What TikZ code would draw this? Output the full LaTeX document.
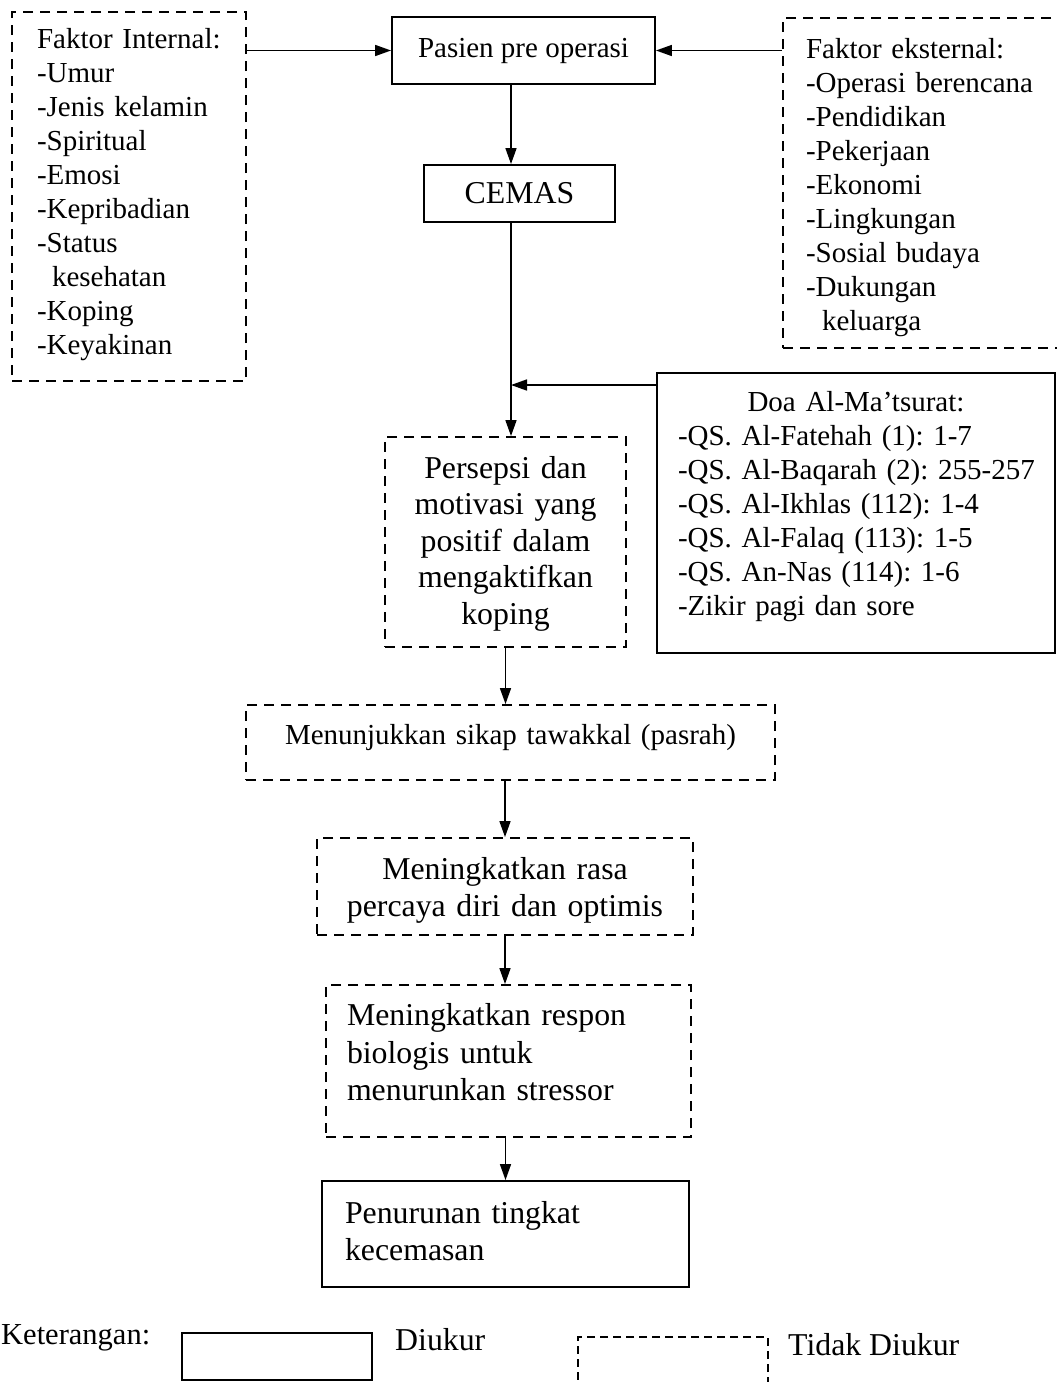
\documentclass[tikz,border=0pt]{standalone}
\usepackage{fontspec}
\setmainfont{Liberation Serif}
\usetikzlibrary{arrows.meta}
\begin{document}
\frenchspacing
\begin{tikzpicture}[x=1pt,y=-1pt,
  every node/.style={font=\fontsize{29}{34}\selectfont\frenchspacing, inner sep=0pt},
  big/.style={font=\fontsize{31.8}{#1}\selectfont\frenchspacing},
  solidbox/.style={draw, line width=1.9pt},
  dashbox/.style={draw, line width=1.9pt, dash pattern=on 10pt off 7pt},
  legdash/.style={draw, line width=1.5pt, dash pattern=on 8pt off 5pt},
  arr/.style={-{Triangle[length=16pt,width=11pt]}, line width=1.6pt}]
\useasboundingbox (0,0) rectangle (1057,1382);

% top row
\node[dashbox, minimum width=234pt, minimum height=369pt, inner xsep=25pt,
      text width=184pt, align=left] (intl) at (129,196.5)
  {Faktor~Internal:\\-Umur\\-Jenis~kelamin\\-Spiritual\\-Emosi\\-Kepribadian\\-Status\\\hspace*{15pt}kesehatan\\-Koping\\-Keyakinan\vspace{4pt}};

\node[solidbox, minimum width=263pt, minimum height=67pt] (pasien) at (523.5,50.5)
  {Pasien pre operasi};

\node[dashbox, minimum width=292pt, minimum height=330pt, inner xsep=23pt,
      text width=246pt, align=left] (extl) at (929,183)
  {Faktor~eksternal:\\-Operasi~berencana\\-Pendidikan\\-Pekerjaan\\-Ekonomi\\-Lingkungan\\-Sosial~budaya\\-Dukungan\\\hspace*{16pt}keluarga\vspace{-10pt}};

\node[solidbox, minimum width=191pt, minimum height=57pt, big=34] (cemas) at (519.5,193.5)
  {CEMAS};

\node[solidbox, minimum width=398pt, minimum height=280pt, inner xsep=21pt,
      text width=356pt, align=left] (doa) at (856,513)
  {\makebox[\linewidth]{Doa Al-Ma’tsurat:}\\\mbox{-QS. Al-Fatehah (1): 1-7}\\\mbox{-QS. Al-Baqarah (2): 255-257}\\\mbox{-QS. Al-Ikhlas (112): 1-4}\\\mbox{-QS. Al-Falaq (113): 1-5}\\\mbox{-QS. An-Nas (114): 1-6}\\\mbox{-Zikir pagi dan sore}\vspace{12pt}};

\node[dashbox, minimum width=241pt, minimum height=210pt, text width=230pt, align=center,
      big=36.5] (persepsi) at (505.5,542)
  {Persepsi dan\\motivasi yang\\positif dalam\\mengaktifkan\\koping\vspace{-3pt}};

\node[dashbox, minimum width=529pt, minimum height=75pt, text width=500pt, align=center] (menu) at (510.5,742.5)
  {Menunjukkan sikap tawakkal (pasrah)\vspace{10pt}};

\node[dashbox, minimum width=376pt, minimum height=97pt, text width=360pt, align=center,
      big=37] (rasa) at (505,886.5)
  {Meningkatkan rasa\\percaya diri dan optimis\vspace{-8pt}};

\node[dashbox, minimum width=365pt, minimum height=152pt, inner xsep=21pt,
      text width=323pt, align=left, big=37.5] (respon) at (508.5,1061)
  {Meningkatkan~respon\\biologis~untuk\\menurunkan~stressor\vspace{17pt}};

\node[solidbox, minimum width=367pt, minimum height=106pt, inner xsep=23pt,
      text width=321pt, align=left, big=37] (penurunan) at (505.5,1234)
  {Penurunan~tingkat\\kecemasan\vspace{6pt}};

% legend
\node[anchor=west, font=\fontsize{30.5}{34}\selectfont] (ket) at (1,1338) {Keterangan:};
\node[solidbox, minimum width=190pt, minimum height=47pt] (legsolid) at (277,1356.5) {};
\node[anchor=west, big=34] (diukur) at (395,1340) {Diukur};
\node[legdash, minimum width=190pt, minimum height=53pt] (legdashed) at (673,1363.5) {};
\node[anchor=west, big=34] (tidak) at (788,1345) {Tidak Diukur};

% connectors
\coordinate (spine) at (511,0);
\coordinate (j) at (511,385);
\draw[arr] (intl.east |- pasien.west) -- (pasien.west);
\draw[arr] (extl.west |- pasien.east) -- (pasien.east);
\draw[arr] (pasien.south -| spine) -- (cemas.north -| spine);
\draw[arr] (cemas.south -| spine) -- (persepsi.north -| spine);
\draw[arr] (doa.west |- j) -- (j);
\draw[arr] (persepsi.south) -- (persepsi.south |- menu.north);
\draw[arr] (menu.south -| rasa.north) -- (rasa.north);
\draw[arr] (rasa.south) -- (rasa.south |- respon.north);
\draw[arr] (respon.south -| penurunan.north) -- (penurunan.north);
\end{tikzpicture}
\end{document}
